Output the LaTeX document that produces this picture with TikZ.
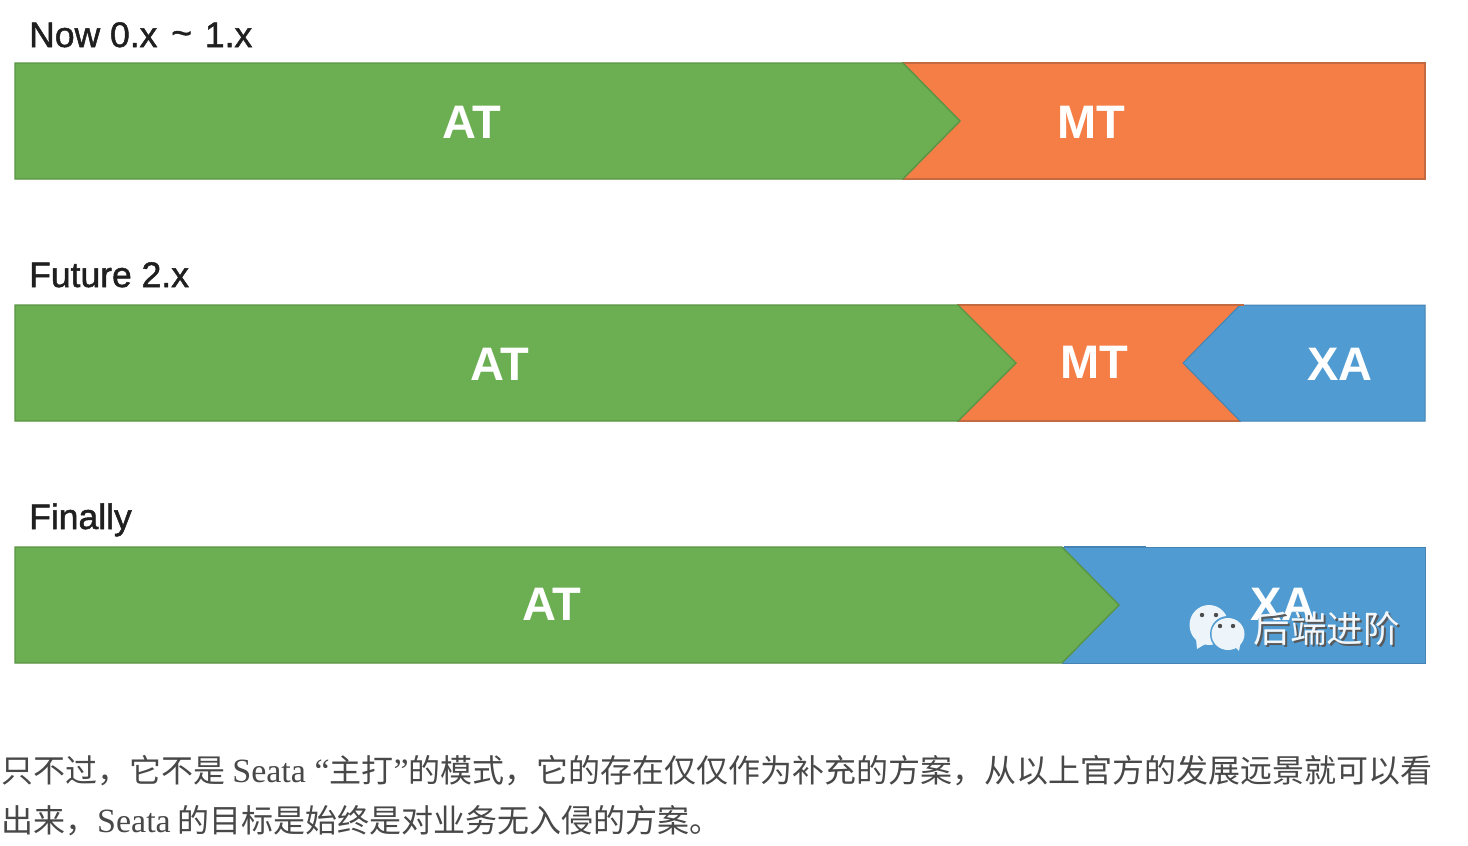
\documentclass[tikz,border=0pt]{standalone}
\usepackage{fontspec}
\setmainfont{Liberation Sans}
\newfontfamily\headf[FakeBold=1.4]{Liberation Sans}
\newfontfamily\cjk{Noto Sans CJK SC}
\newfontfamily\serifl{Liberation Serif}
\definecolor{gr}{HTML}{6CAE52}
\definecolor{grl}{HTML}{5A9445}
\definecolor{org}{HTML}{F57E47}
\definecolor{orl}{HTML}{C46A40}
\definecolor{blu}{HTML}{4F9BD2}
\definecolor{bll}{HTML}{4483B2}
\definecolor{bodytxt}{HTML}{484848}
\tikzset{
  greenbar/.style={fill=gr,draw=grl,line width=1.4pt,line join=miter},
  orangebar/.style={fill=org,draw=orl,line width=1.2pt},
  bluebar/.style={fill=blu,draw=bll,line width=1pt},
  topedge/.style={draw=bll,line width=1.2pt},
  barlabel/.style={text=white,font=\fontsize{47}{47}\selectfont\bfseries,inner sep=0pt,anchor=center},
  headlabel/.style={text=black!88,font=\fontsize{35.5}{35.5}\selectfont\headf,inner sep=0pt,anchor=base west},
  bodyline/.style={text=bodytxt,inner sep=0pt,anchor=base west,font=\fontsize{32}{32}\selectfont\cjk},
  wm/.style={text=white!92!blu,font=\fontsize{36.5}{36.5}\selectfont\cjk,inner sep=0pt,anchor=center},
  wmshadow/.style={text=black!65,font=\fontsize{36.5}{36.5}\selectfont\cjk,inner sep=0pt,anchor=center},
  bubble/.style={fill=white!90!blu,draw=none},
}
\begin{document}
\begin{tikzpicture}[x=1pt,y=-1pt]
\useasboundingbox (0,0) rectangle (1468,846);
\fill[white] (0,0) rectangle (1468,846);
% row 1
\node[headlabel] (h1) at (29,47) {Now 0.x\hspace{4pt} \raisebox{2pt}{\textasciitilde}\hspace{3pt} 1.x};
\path[orangebar] (903,63) -- (1425,63) -- (1425,179) -- (903,179) -- cycle;
\path[greenbar] (15,63) -- (903,63) -- (960,121) -- (903,179) -- (15,179) -- cycle;
\node[barlabel] (a1) at (472,122) {AT};
\node[barlabel] (m1) at (1091,122) {MT};
% row 2
\node[headlabel] (h2) at (29,287) {Future 2.x};
\path[orangebar] (958,305) -- (1240,305) -- (1240,421) -- (958,421) -- cycle;
\path[bluebar] (1240,305) -- (1425,305) -- (1425,421) -- (1240,421) -- (1183,363) -- cycle;
\path[greenbar] (15,305) -- (958,305) -- (1016,363) -- (958,421) -- (15,421) -- cycle;
\draw[orangebar] (1229,305) -- (1244,305);
\node[barlabel] (a2) at (500,364) {AT};
\node[barlabel] (m2) at (1094,362) {MT};
\node[barlabel] (x2) at (1340,364) {XA};
% row 3
\node[headlabel] (h3) at (29,529) {Finally};
\path[bluebar] (1062,547) -- (1425,547) -- (1425,663) -- (1062,663) -- cycle;
\path[greenbar] (15,547) -- (1062,547) -- (1119,605) -- (1062,663) -- (15,663) -- cycle;
\draw[topedge] (1064,547) -- (1146,547);
\node[barlabel] (a3) at (552,604) {AT};
\node[barlabel] (x3) at (1283,604) {XA};
% watermark
\node[wmshadow] (wms) at (1328.5,630.5) {后端进阶};
\node[wm] (wmt) at (1326.5,629) {后端进阶};
\fill[bubble] (1209,625) ellipse (19.5 and 20);
\fill[bubble] (1198,640) -- (1196,639) -- (1197,649) -- (1207,643) -- cycle;
\fill[blu] (1228,634) ellipse (18 and 18);
\fill[bubble] (1228,634) ellipse (16.5 and 16);
\fill[bubble] (1232,644) -- (1241,640) -- (1239,651) -- cycle;
\fill[black!70] (1202,615) circle (2.2) (1216,615) circle (2.2) (1220,626) circle (2.2) (1233,626) circle (2.2);
% body text
\node[bodyline] (b1) at (1,782) {只不过，它不是 {\fontsize{34}{34}\selectfont\serifl Seata “}主打{\fontsize{34}{34}\selectfont\serifl ”}的模式，它的存在仅仅作为补充的方案，从以上官方的发展远景就可以看};
\node[bodyline] (b2) at (1,832) {出来，{\fontsize{34}{34}\selectfont\serifl Seata} 的目标是始终是对业务无入侵的方案。};
\end{tikzpicture}
\end{document}
